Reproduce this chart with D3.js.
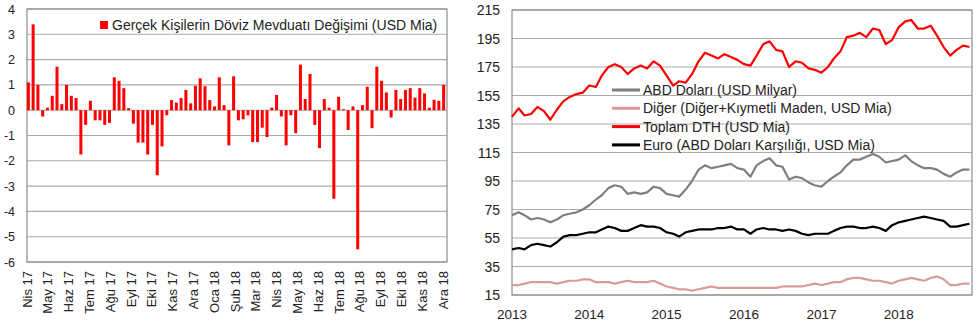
<!DOCTYPE html>
<html><head><meta charset="utf-8">
<script src="https://cdn.jsdelivr.net/npm/d3@7"></script>
<style>
body{margin:0;background:#fff;}
svg{display:block;font-family:"Liberation Sans",Arial,sans-serif;}
</style></head>
<body><svg id="c" width="980" height="325"></svg>
<script>
// ---------- Left chart data (weekly change, USD bn) ----------
const barLegend = "Gerçek Kişilerin Döviz Mevduatı Değişimi (USD Mia)";
const monthLabels = ["Nis 17","May 17","Haz 17","Tem 17","Ağu 17","Eyl 17","Eki 17","Kas 17","Ara 17","Oca 18","Şub 18","Mar 18","Nis 18","May 18","Haz 18","Tem 18","Ağu 18","Eyl 18","Eki 18","Kas 18","Ara 18"];
const weeklyChange = [1.1,3.39,1.0,-0.25,0.1,0.57,1.72,0.24,1.0,0.57,0.48,-1.75,-0.58,0.37,-0.4,-0.4,-0.58,-0.5,1.3,1.16,0.87,0.08,-0.53,-1.28,-1.28,-1.75,-0.58,-2.57,-1.43,-0.2,0.4,0.3,0.48,0.8,0.27,0.97,1.26,0.95,0.4,0.15,1.3,0.2,-1.39,1.34,-0.4,-0.36,-0.2,-1.26,-1.26,-0.69,-1.06,0.1,0.6,-0.25,-1.39,-0.2,-0.91,1.8,0.44,1.43,-0.58,-1.5,0.44,0.1,-3.5,0.53,0.04,-0.78,0.15,-5.5,0.2,0.93,-0.71,1.72,1.16,0.7,-0.29,0.8,0.44,0.8,0.87,0.5,0.87,0.66,0.1,0.41,0.37,1.0];
const leftTicks = [4,3,2,1,0,-1,-2,-3,-4,-5,-6];

// ---------- Right chart data (monthly, Jan 2013 - Dec 2018) ----------
const startYear = 2013;
const yearLabels = ["2013","2014","2015","2016","2017","2018"];
const rightTicks = [15,35,55,75,95,115,135,155,175,195,215];
const toplam = [140,146,141,142,147,144,138,145,151,154,156,157,162,161,169,175,177,175,170,174,176,174,179,176,
  169,162,165,164,170,179,185,183,181,184,182,180,177,176,183,191,193,187,186,175,179,178,174,173,
  171,175,181,186,196,197,199,196,202,201,191,194,203,207,208,202,202,204,197,189,183,187,190,189];
const abdDolari = [71,73,71,68,69,68,66,68,71,72,73,75,78,82,85,90,92,91,86,87,86,87,91,90,
  86,85,84,89,95,103,106,104,105,106,107,104,103,98,106,109,111,106,105,96,98,97,94,92,
  91,95,98,101,106,110,110,112,114,112,108,109,110,113,109,106,104,104,103,100,98,101,103,103];
const euro = [47,48,47,50,51,50,49,52,56,57,57,58,59,59,61,63,62,60,60,62,64,63,63,62,
  59,58,56,59,60,61,61,61,62,62,63,61,61,58,61,62,61,61,60,61,60,58,57,58,
  58,58,60,62,63,63,62,62,63,62,60,64,66,67,68,69,70,69,68,67,63,63,64,65];
const diger = [22,22,23,24,24,24,24,23,24,25,25,26,26,24,24,24,23,24,25,24,24,24,25,23,
  21,20,19,19,18,19,20,21,20,20,20,20,20,20,20,20,20,20,21,21,21,21,22,23,
  22,23,24,24,26,27,27,26,25,25,24,23,25,26,27,26,25,27,28,26,22,22,23,23];
const seriesNames = ["ABD Doları (USD Milyar)","Diğer (Diğer+Kıymetli Maden, USD Mia)","Toplam DTH (USD Mia)","Euro (ABD Doları Karşılığı, USD Mia)"];
const seriesValues = [abdDolari, diger, toplam, euro];
const seriesColors = ["#7f7f7f","#d99a98","#ff0000","#000000"];
// draw order (back to front)
const drawOrder = [1,3,0,2];

const svg = d3.select("#c");
const gridColor = "#ababab", frameColor = "#8c8c8c", textColor = "#222";

// ================= LEFT CHART =================
const L = {x0:27, x1:447, y0:9, y1:262};
const yL = d3.scaleLinear().domain([-6,4]).range([L.y1, L.y0]);
const xL = d3.scaleBand().domain(d3.range(weeklyChange.length)).range([L.x0-1, L.x1-1]).paddingInner(0.37).paddingOuter(0.18);
const xM = d3.scalePoint().domain(monthLabels).range([L.x0, L.x1-4]);

const gl = svg.append("g");
gl.selectAll("line.grid").data(leftTicks).join("line")
  .attr("x1",L.x0).attr("x2",L.x1).attr("y1",d=>yL(d)).attr("y2",d=>yL(d))
  .attr("stroke",gridColor).attr("stroke-width",1.1);
gl.append("rect").attr("x",L.x0).attr("y",L.y0).attr("width",L.x1-L.x0).attr("height",L.y1-L.y0)
  .attr("fill","none").attr("stroke",frameColor).attr("stroke-width",1.2);
gl.selectAll("rect.bar").data(weeklyChange).join("rect").attr("class","bar")
  .attr("x",(d,i)=>xL(i)).attr("width",xL.bandwidth())
  .attr("y",d=>yL(Math.max(0,d))).attr("height",d=>Math.abs(yL(d)-yL(0)))
  .attr("fill","#ff0000");
gl.selectAll("text.yt").data(leftTicks).join("text")
  .attr("x",15).attr("y",d=>yL(d)).attr("dy","0.36em").attr("text-anchor","end")
  .attr("font-size",12.5).attr("fill",textColor).text(d=>d);
gl.selectAll("text.xt").data(monthLabels).join("text")
  .attr("transform",d=>`translate(${xM(d)},271) rotate(-90)`).attr("dy","0.36em")
  .attr("text-anchor","end").attr("font-size",13).attr("fill",textColor).text(d=>d);
// legend
gl.append("rect").attr("x",100).attr("y",21).attr("width",8).attr("height",8).attr("fill","#ff0000");
gl.append("text").attr("x",112).attr("y",25).attr("dy","0.36em").attr("font-size",14)
  .attr("fill",textColor).text(barLegend);

// ================= RIGHT CHART =================
const R = {x0:512, x1:972, y0:10, y1:295};
const dates = toplam.map((_,i)=>new Date(startYear, i, 1));
const xR = d3.scaleTime().domain([new Date(startYear,0,1), new Date(2018,11,13)]).range([R.x0, R.x1]);
const yR = d3.scaleLinear().domain([15,215]).range([R.y1, R.y0]);

const gr = svg.append("g");
gr.selectAll("line.grid").data(rightTicks).join("line")
  .attr("x1",R.x0).attr("x2",R.x1).attr("y1",d=>yR(d)).attr("y2",d=>yR(d))
  .attr("stroke",gridColor).attr("stroke-width",1.1);
gr.append("rect").attr("x",R.x0).attr("y",R.y0).attr("width",R.x1-R.x0).attr("height",R.y1-R.y0)
  .attr("fill","none").attr("stroke",frameColor).attr("stroke-width",1.2);

const line = d3.line().x((d,i)=>xR(dates[i])).y(d=>yR(d));
drawOrder.forEach(k=>{
  gr.append("path").datum(seriesValues[k]).attr("d",line)
    .attr("fill","none").attr("stroke",seriesColors[k]).attr("stroke-width",2.2)
    .attr("stroke-linejoin","round");
});
gr.selectAll("text.yt").data(rightTicks).join("text")
  .attr("x",500).attr("y",d=>yR(d)).attr("dy","0.36em").attr("text-anchor","end")
  .attr("font-size",14).attr("fill",textColor).text(d=>d);
gr.selectAll("text.xt").data(yearLabels).join("text")
  .attr("x",d=>xR(new Date(+d,0,1))).attr("y",319).attr("text-anchor","middle")
  .attr("font-size",13.5).attr("fill",textColor).text(d=>d);

// legend
const lg = gr.append("g");
seriesNames.forEach((n,i)=>{
  const y = 90 + i*18.3;
  lg.append("line").attr("x1",612).attr("x2",640).attr("y1",y).attr("y2",y)
    .attr("stroke",seriesColors[i]).attr("stroke-width",3);
  lg.append("text").attr("x",643).attr("y",y).attr("dy","0.36em").attr("font-size",14)
    .attr("fill",textColor).text(n);
});
</script></body></html>
